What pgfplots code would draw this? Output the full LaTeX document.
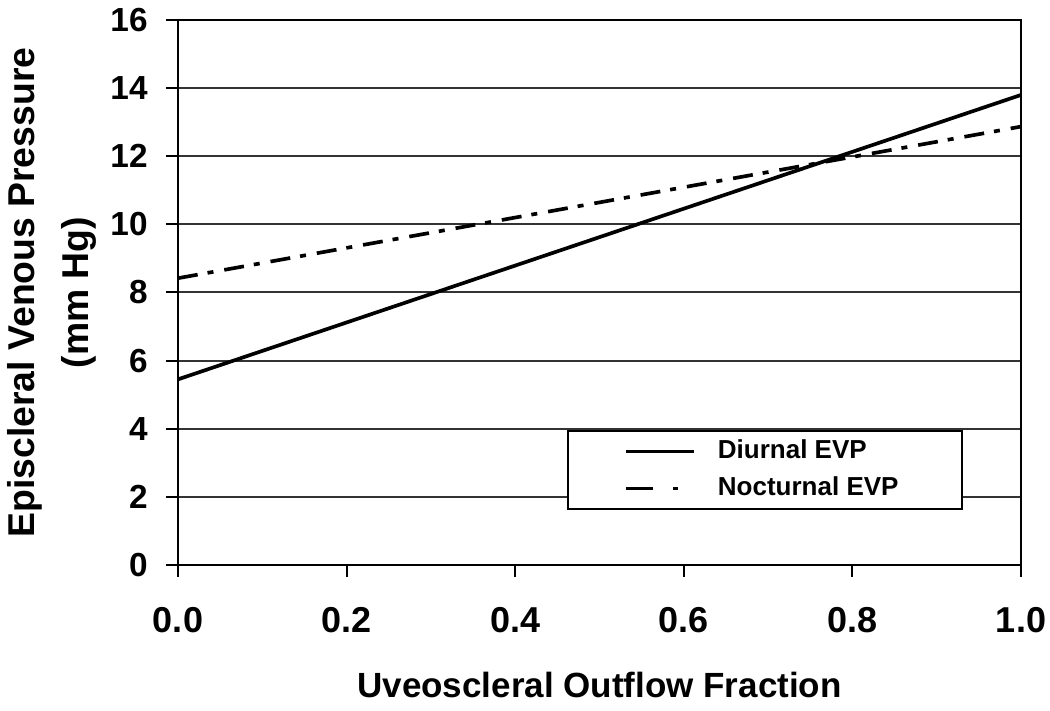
\documentclass[border=0pt]{standalone}
\usepackage{pgfplots}
\pgfplotsset{compat=1.18}
\usepackage{fontspec}
\setmainfont{Liberation Sans}
\begin{document}
\begin{tikzpicture}
\begin{axis}[
  width=252.9pt, height=163.5pt, scale only axis,
  xmin=0, xmax=1, ymin=0, ymax=16,
  xtick={0,0.2,0.4,0.6,0.8,1.0}, ytick={0,2,...,16},
  xticklabels={0.0,0.2,0.4,0.6,0.8,1.0},
  /pgf/number format/assume math mode=true,
  xticklabel style={font=\bfseries\fontsize{10.8}{12}\selectfont, yshift=-5.5pt},
  yticklabel style={font=\bfseries\fontsize{10}{12}\selectfont, xshift=-2pt},
  tick align=outside, major tick length=3.6pt,
  xtick pos=bottom, ytick pos=left,
  tick style={black, line width=0.6pt},
  axis line style={black, line width=0.6pt},
  ymajorgrids, grid style={black!80, line width=0.6pt},
  xlabel={Uveoscleral Outflow Fraction},
  xlabel style={font=\bfseries\fontsize{10.5}{12}\selectfont, yshift=-5pt},
  ylabel={Episcleral Venous Pressure\\(mm Hg)},
  ylabel style={font=\bfseries\fontsize{11.2}{16}\selectfont, align=center, yshift=-2.5pt},
  legend style={at={(axis cs:0.461,3.96)}, anchor=north west, draw=black, line width=0.6pt,
    inner xsep=17pt, inner ysep=0.5pt, font=\bfseries\fontsize{7.8}{9}\selectfont,
    row sep=0pt, nodes={inner ysep=2pt}},
  legend cell align=left,
  legend image code/.code={\draw[#1] (0pt,0pt) -- (20.4pt,0pt); \path (25pt,0pt);},
]
\addplot[black, line width=1.1pt] coordinates {(0,5.45) (1,13.8)};
\addlegendentry{Diurnal EVP}
\addplot[black, line width=1.1pt, dash pattern=on 6pt off 3pt on 1.8pt off 3.3pt, forget plot] coordinates {(0,8.42) (1,12.87)};
\addlegendimage{black, line width=1.1pt, dash pattern=on 8pt off 6pt on 1.6pt off 10pt}
\addlegendentry{Nocturnal EVP}
\end{axis}
\pgfresetboundingbox
\path[use as bounding box] (-53.4pt,-43.8pt) rectangle (261.6pt,169.5pt);
\end{tikzpicture}
\end{document}
